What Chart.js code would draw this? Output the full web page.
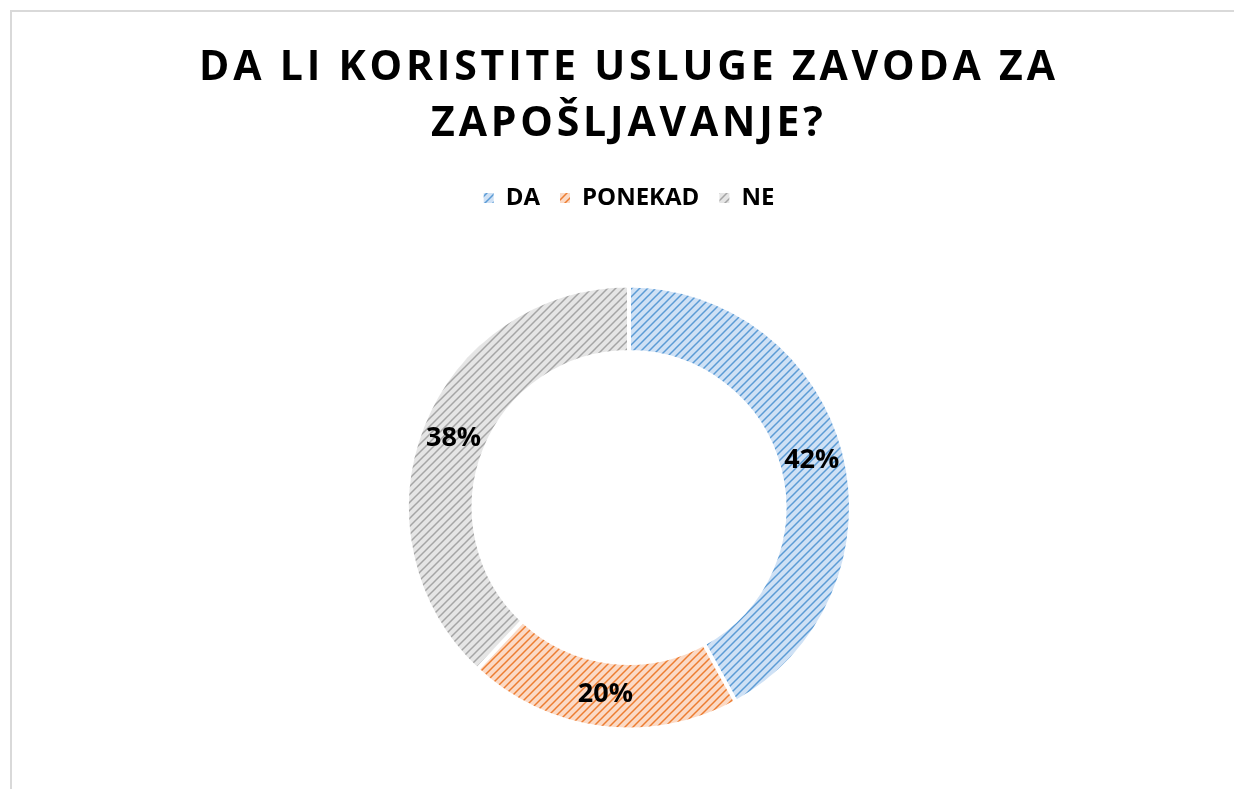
<!DOCTYPE html>
<html>
<head>
<meta charset="utf-8">
<script src="https://cdn.jsdelivr.net/npm/chart.js@4"></script>
<style>
  html, body { margin: 0; padding: 0; background: #fff; overflow: hidden; }
  #frame { position: absolute; left: 10px; top: 10px; width: 1240px; height: 800px; border: 2px solid #d9d9d9; box-sizing: border-box; }
  #wrap { position: absolute; left: 0; top: 0; width: 1234px; height: 789px; }
</style>
</head>
<body>
<div id="frame"></div>
<div id="wrap"><canvas id="chart_usluge"></canvas></div>
<script>
const titleLines = ['DA LI KORISTITE USLUGE ZAVODA ZA', 'ZAPOŠLJAVANJE?'];
const answerLabels = ['DA', 'PONEKAD', 'NE'];
const answerPercents = [42, 20, 38];
const lineColors = ['#5b9bd5', '#ed7d31', '#a5a5a5'];
const tintColors = ['#cfe1f5', '#fbdac6', '#e5e5e5'];

const FONT = "'Open Sans', 'DejaVu Sans', sans-serif";

//build a "wide upward diagonal" hatch like the office pattern fill
function makeHatch(line, tint){
  const c = document.createElement('canvas');
  c.width = 8;
  c.height = 8;
  const g = c.getContext('2d');
  g.fillStyle = tint;
  g.fillRect(0, 0, 8, 8);
  g.strokeStyle = line;
  g.lineWidth = 1.5;
  g.beginPath();
  g.moveTo(-1, 9); g.lineTo(9, -1);
  g.moveTo(-1, 1); g.lineTo(1, -1);
  g.moveTo(7, 9); g.lineTo(9, 7);
  g.stroke();
  return g.createPattern(c, 'repeat');
}

let hatches = [];
for (let i = 0; i < lineColors.length; i++) {
  hatches.push(makeHatch(lineColors[i], tintColors[i]));
}

//title with wide letter spacing, drawn on the canvas
const titlePlugin = {
  id: 'spacedTitle',
  afterDraw(chart){
    const ctx = chart.ctx;
    ctx.save();
    ctx.font = 'bold 41px ' + FONT;
    ctx.fillStyle = '#000';
    ctx.textAlign = 'center';
    ctx.textBaseline = 'alphabetic';
    ctx.letterSpacing = '3.8px';
    ctx.fillText(titleLines[0], 627 + 1.9, 80);
    ctx.fillText(titleLines[1], 627 + 1.9, 136);
    ctx.restore();
  }
};

//extra room under the legend so the ring sits lower
const legendGap = {
  id: 'legendGap',
  beforeInit(chart){
    const fit = chart.legend.fit;
    chart.legend.fit = function(){
      fit.call(this);
      this.height += 6;
    };
  }
};

//percent labels in the middle of each ring segment
const percentPlugin = {
  id: 'percentLabels',
  afterDatasetsDraw(chart){
    const ctx = chart.ctx;
    const meta = chart.getDatasetMeta(0);
    ctx.save();
    ctx.font = 'bold 27px ' + FONT;
    ctx.fillStyle = '#000';
    ctx.textAlign = 'center';
    ctx.textBaseline = 'middle';
    meta.data.forEach((arc, i) => {
      const p = arc.tooltipPosition();
      ctx.fillText(answerPercents[i] + '%', p.x, p.y);
    });
    ctx.restore();
  }
};

const ctx = document.getElementById('chart_usluge');
new Chart(ctx, {
  type: 'doughnut',
  data: {
    labels: answerLabels,
    datasets: [{
      data: answerPercents,
      backgroundColor: hatches,
      borderColor: '#ffffff',
      borderWidth: 4,
      hoverOffset: 0
    }]
  },
  options: {
    responsive: true,
    maintainAspectRatio: false,
    animation: false,
    radius: 222,
    cutout: '70%',
    layout: {
      padding: { top: 166, left: 24, right: 0, bottom: 0 }
    },
    plugins: {
      title: { display: false },
      tooltip: { enabled: false },
      legend: {
        position: 'top',
        labels: {
          boxWidth: 10,
          boxHeight: 10,
          padding: 20,
          color: '#000',
          font: { family: FONT, size: 24, weight: 'bold' },
          generateLabels(chart){
            const items = Chart.controllers.doughnut.overrides.plugins.legend.labels.generateLabels(chart);
            items.forEach(it => { it.lineWidth = 0; });
            return items;
          }
        }
      }
    }
  },
  plugins: [titlePlugin, legendGap, percentPlugin]
});
</script>
</body>
</html>
